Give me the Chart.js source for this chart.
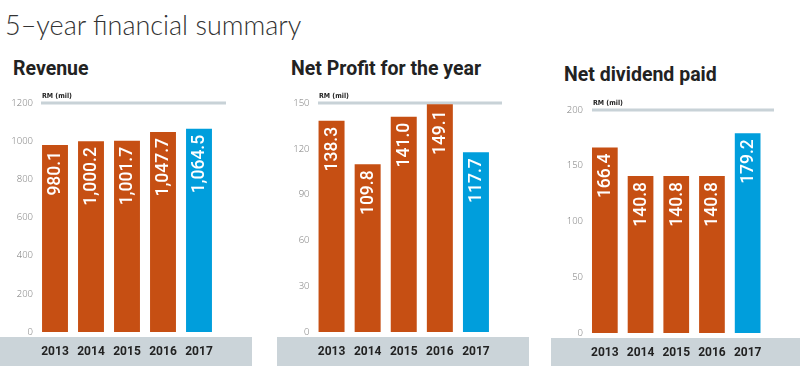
<!DOCTYPE html>
<html>
<head>
<meta charset="utf-8">
<script src="https://cdn.jsdelivr.net/npm/chart.js@4"></script>
<style>
  html, body { margin: 0; padding: 0; background: #fff; }
  body { width: 800px; height: 366px; position: relative; overflow: hidden; }
  .t { position: absolute; white-space: nowrap; line-height: 1; }
  .main { left: 5px; top: 8px; font: 300 27px Lato, sans-serif; color: #333; }
  .sub { font-family: Roboto, sans-serif; font-weight: 700; font-size: 19.5px; color: #222; }
  .box { position: absolute; top: 90px; height: 276px; }
</style>
</head>
<body>
<div class="t main">5–year financial summary</div>
<div class="t sub" style="left:13px;top:59px">Revenue</div>
<div class="t sub" style="left:291px;top:58.6px">Net Profit for the year</div>
<div class="t sub" style="left:564px;top:65.3px">Net dividend paid</div>

<div class="box" style="left:0;width:252px"><canvas id="rev" width="252" height="276"></canvas></div>
<div class="box" style="left:277px;width:252px"><canvas id="profit" width="252" height="276"></canvas></div>
<div class="box" style="left:551px;width:249px"><canvas id="div" width="249" height="276"></canvas></div>

<script>
const years = ['2013', '2014', '2015', '2016', '2017'];
const revenue = [980.1, 1000.2, 1001.7, 1047.7, 1064.5];
const netProfit = [138.3, 109.8, 141.0, 149.1, 117.7];
const dividend = [166.4, 140.8, 140.8, 140.8, 179.2];

const ORANGE = '#C64F13';
const BLUE = '#009EDC';
const GREY = '#CBD4D9';
const barColors = years.map((y, i) => i === years.length - 1 ? BLUE : ORANGE);

// band under the axis, top rule with "RM (mil)", values written up inside the bars
const decor = {
    id: 'decor',
    beforeDraw(chart, args, opts) {
        const { ctx, chartArea: a, width, height } = chart;
        ctx.save();
        ctx.fillStyle = GREY;
        ctx.fillRect(0, a.bottom + 5, width, height - a.bottom - 5);
        const y = chart.scales.y.getPixelForValue(chart.scales.y.max);
        ctx.fillStyle = '#C8D2D7';
        ctx.fillRect(a.left + opts.lineL, y - 1.5, a.right - a.left - opts.lineL + opts.lineR, 3);
        ctx.fillStyle = '#222';
        ctx.font = 'bold 7px "DejaVu Sans Condensed", sans-serif';
        ctx.textBaseline = 'alphabetic';
        ctx.fillText('RM (mil)', a.left + opts.lineL + 1, y - 5);
        ctx.restore();
    },
    afterDatasetsDraw(chart) {
        const { ctx } = chart;
        const meta = chart.getDatasetMeta(0);
        const vals = chart.data.datasets[0].data;
        ctx.save();
        ctx.fillStyle = '#fff';
        ctx.font = '500 17.5px Roboto, sans-serif';
        ctx.textAlign = 'right';
        ctx.textBaseline = 'middle';
        meta.data.forEach((bar, i) => {
            const txt = vals[i].toLocaleString('en-US', { minimumFractionDigits: 1, maximumFractionDigits: 1 });
            ctx.save();
            ctx.translate(bar.x + 1, bar.y + 6);
            ctx.rotate(-Math.PI / 2);
            ctx.fillText(txt, 0, 0);
            ctx.restore();
        });
        ctx.restore();
    }
};

function makeChart(id, values, max, step, box) {
    const canvas = document.getElementById(id);
    return new Chart(canvas, {
        type: 'bar',
        data: {
            labels: years,
            datasets: [{ data: values, backgroundColor: barColors, categoryPercentage: 1, barPercentage: 0.72 }]
        },
        options: {
            responsive: false,
            animation: false,
            devicePixelRatio: 1,
            layout: { padding: { left: 0, top: box.top, right: canvas.width - box.right, bottom: 0 } },
            scales: {
                x: {
                    grid: { display: false, drawTicks: false },
                    border: { display: false },
                    ticks: {
                        color: '#222', padding: 13, maxRotation: 0, minRotation: 0, autoSkip: false,
                        font: { family: 'Roboto', size: 12, weight: 'bold' }
                    },
                    afterFit(s) { s.height = canvas.height - box.bottom; }
                },
                y: {
                    min: 0, max: max,
                    grid: { display: false, drawTicks: false },
                    border: { display: false },
                    ticks: {
                        stepSize: step, color: '#777', padding: 4,
                        font: { family: 'Open Sans', size: 9.5, weight: 300 },
                        callback: v => String(v)
                    },
                    afterFit(s) { s.width = box.left; }
                }
            },
            plugins: {
                legend: { display: false },
                tooltip: { enabled: false },
                decor: { lineL: box.lineL, lineR: box.lineR }
            }
        },
        plugins: [decor]
    });
}

makeChart('rev', revenue, 1200, 200, { left: 37, right: 217, top: 13, bottom: 242, lineL: 4, lineR: 9 });
makeChart('profit', netProfit, 150, 30, { left: 36.5, right: 217, top: 13, bottom: 242, lineL: 4.5, lineR: 8 });
makeChart('div', dividend, 200, 50, { left: 36, right: 214.5, top: 20, bottom: 243, lineL: 5, lineR: 8.5 });
</script>
</body>
</html>
